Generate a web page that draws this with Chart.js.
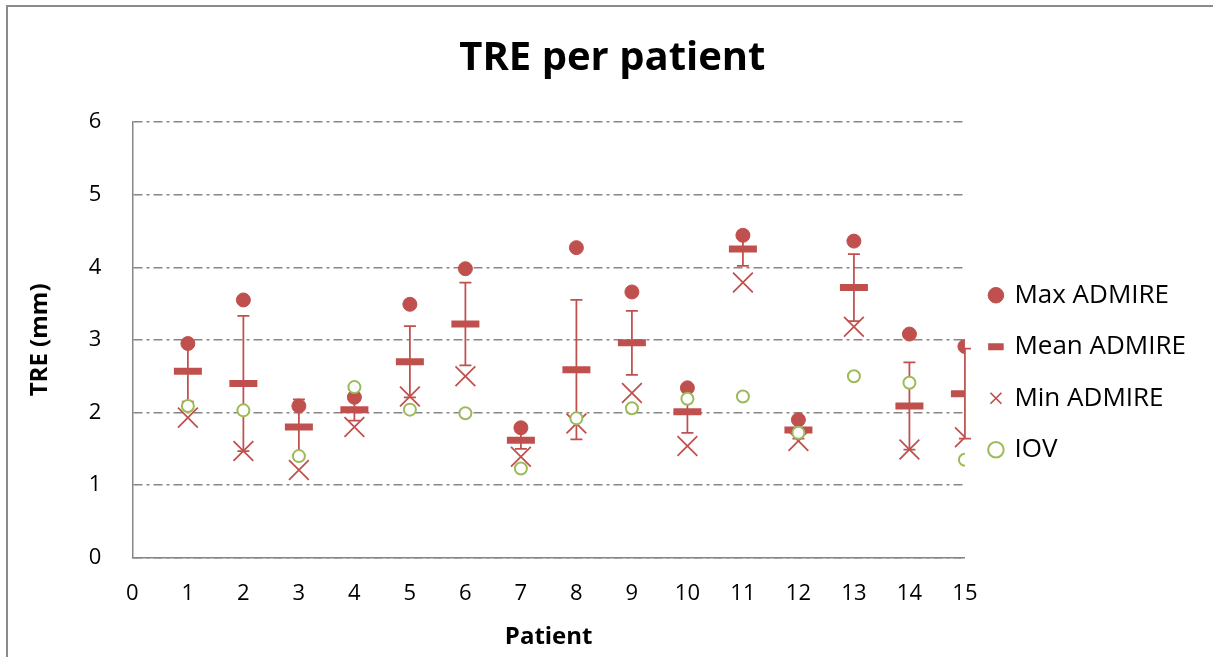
<!DOCTYPE html>
<html>
<head>
<meta charset="utf-8">
<script src="https://cdn.jsdelivr.net/npm/chart.js@4.4.1/dist/chart.umd.min.js"></script>
<style>
  html, body { margin: 0; padding: 0; background: #fff; overflow: hidden; }
  #wrap { position: relative; width: 1213px; height: 657px; }
  #frame { position: absolute; left: 6px; top: 5px; width: 1300px; height: 800px; border: 2px solid #8a8a8a; pointer-events: none; }
  canvas { position: absolute; left: 0; top: 0; }
</style>
</head>
<body>
<div id="wrap">
  <canvas id="grafik" width="1213" height="657"></canvas>
  <div id="frame"></div>
</div>
<script>
const patients = [1, 2, 3, 4, 5, 6, 7, 8, 9, 10, 11, 12, 13, 14, 15];
const maxAdmire = [2.95, 3.55, 2.09, 2.21, 3.49, 3.98, 1.79, 4.27, 3.66, 2.34, 4.44, 1.90, 4.36, 3.08, 2.91];
const meanAdmire = [2.57, 2.40, 1.80, 2.04, 2.70, 3.22, 1.62, 2.59, 2.96, 2.01, 4.25, 1.76, 3.72, 2.09, 2.26];
const minAdmire = [1.93, 1.47, 1.21, 1.80, 2.22, 2.50, 1.39, 1.85, 2.27, 1.54, 3.79, 1.61, 3.18, 1.49, 1.66];
const iov = [2.09, 2.03, 1.40, 2.35, 2.04, 1.99, 1.23, 1.92, 2.06, 2.19, 2.22, 1.72, 2.50, 2.41, 1.35];
const sdAdmire = [0.42, 0.93, 0.38, 0.15, 0.49, 0.57, 0.12, 0.96, 0.44, 0.29, 0.23, 0.12, 0.46, 0.60, 0.62];

const red = '#C0504D';
const green = '#9BBB59';
const grey = '#868686';

function points(values) {
    return patients.map((p, i) => ({ x: p, y: values[i] }));
}

// error bars (mean +/- sd) drawn under the markers
const errorBars = {
    id: 'errorBars',
    beforeDatasetsDraw(chart) {
        const ctx = chart.ctx;
        const xs = chart.scales.x;
        const ys = chart.scales.y;
        ctx.save();
        ctx.strokeStyle = red;
        ctx.lineWidth = 1.75;
        patients.forEach((p, i) => {
            const x = xs.getPixelForValue(p);
            const top = ys.getPixelForValue(meanAdmire[i] + sdAdmire[i]);
            const bot = ys.getPixelForValue(meanAdmire[i] - sdAdmire[i]);
            ctx.beginPath();
            ctx.moveTo(x, top);
            ctx.lineTo(x, bot);
            ctx.moveTo(x - 6, top);
            ctx.lineTo(x + 6, top);
            ctx.moveTo(x - 6, bot);
            ctx.lineTo(x + 6, bot);
            ctx.stroke();
        });
        ctx.restore();
    }
};

Chart.defaults.font.family = "'Open Sans', sans-serif";
Chart.defaults.color = '#000';

const data = {
    datasets: [{
        label: 'Max ADMIRE',
        data: points(maxAdmire),
        pointStyle: 'circle',
        pointRadius: 7,
        backgroundColor: red,
        borderColor: red,
        borderWidth: 1,
        order: 4
    }, {
        label: 'Mean ADMIRE',
        data: points(meanAdmire),
        pointStyle: 'line',
        pointRadius: 14,
        backgroundColor: red,
        borderColor: red,
        borderWidth: 7,
        order: 3
    }, {
        label: 'Min ADMIRE',
        data: points(minAdmire),
        pointStyle: 'crossRot',
        pointRadius: 14,
        backgroundColor: red,
        borderColor: red,
        borderWidth: 1.75,
        order: 2
    }, {
        label: 'IOV',
        data: points(iov),
        pointStyle: 'circle',
        pointRadius: 6,
        backgroundColor: '#fff',
        borderColor: green,
        borderWidth: 2,
        order: 1
    }]
};

const config = {
    type: 'scatter',
    data: data,
    options: {
        responsive: false,
        devicePixelRatio: 1,
        animation: false,
        layout: { padding: { left: 8, right: 17, top: 10, bottom: 4 } },
        plugins: {
            tooltip: { enabled: false },
            title: {
                display: true,
                text: '  TRE per patient',
                font: { size: 40, weight: 'bold' },
                padding: { top: 25, bottom: 39 }
            },
            legend: {
                position: 'right',
                fullSize: false,
                title: { display: true, text: ' ', font: { size: 26 }, padding: 17 },
                labels: {
                    usePointStyle: true,
                    boxWidth: 11,
                    boxHeight: 11,
                    padding: 25.5,
                    font: { size: 26 },
                    sort: (a, b) => a.datasetIndex - b.datasetIndex
                }
            }
        },
        scales: {
            x: {
                type: 'linear',
                min: 0,
                max: 15,
                ticks: { stepSize: 1, padding: 23, font: { size: 22 } },
                grid: { display: false, drawTicks: false },
                border: { display: true, color: grey, width: 1.5 },
                title: {
                    display: true,
                    text: 'Patient',
                    font: { size: 24, weight: 'bold' },
                    padding: { top: -7, bottom: 1 }
                }
            },
            y: {
                min: 0,
                max: 6,
                ticks: { stepSize: 1, padding: 31, font: { size: 22 } },
                grid: { color: grey, lineWidth: 1.5, drawTicks: false },
                border: { display: true, color: grey, width: 1.5, dash: [9, 4, 3, 4] },
                title: {
                    display: true,
                    text: 'TRE (mm)',
                    font: { size: 24, weight: 'bold' },
                    padding: { top: 18, bottom: 3 }
                }
            }
        }
    },
    plugins: [errorBars]
};

const myChart = new Chart(document.getElementById('grafik'), config);
</script>
</body>
</html>
